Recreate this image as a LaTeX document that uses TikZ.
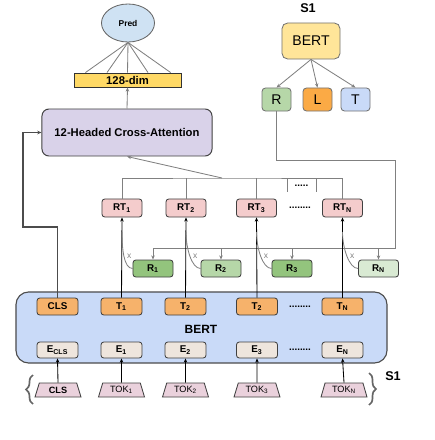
\documentclass[tikz,border=0pt]{standalone}
\usepackage{fontspec}
\setmainfont{Liberation Sans}
\usepackage{xcolor}
\usetikzlibrary{arrows.meta,positioning,shapes.geometric,calc,decorations.pathreplacing}

\definecolor{predblue}{HTML}{CFE2F3}
\definecolor{dimyellow}{HTML}{FFD966}
\definecolor{attnpurple}{HTML}{D9D2E9}
\definecolor{bertyellow}{HTML}{FFE599}
\definecolor{rgreen}{HTML}{B6D7A8}
\definecolor{rdark}{HTML}{93C47D}
\definecolor{rlight}{HTML}{D9EAD3}
\definecolor{lorange}{HTML}{FBAA45}
\definecolor{tblue}{HTML}{C9DAF8}
\definecolor{rtpink}{HTML}{F4CCCC}
\definecolor{torange}{HTML}{F6B26B}
\definecolor{ebeige}{HTML}{EEE5DD}
\definecolor{tokpink}{HTML}{EAD1DC}

\begin{document}
\begin{tikzpicture}[
  x=0.025cm, y=-0.025cm,
  box/.style={rectangle, draw=black!75, rounded corners=2pt, line width=0.6pt,
              inner sep=0pt, font=\bfseries\fontsize{7}{8}\selectfont},
  rtbox/.style={box, fill=rtpink, minimum width=1cm, minimum height=0.45cm},
  rbox/.style={box, minimum width=1cm, minimum height=0.425cm},
  tbox/.style={box, fill=torange, minimum width=1.025cm, minimum height=0.425cm},
  ebox/.style={box, fill=ebeige, minimum width=1.025cm, minimum height=0.4cm},
  tok/.style={trapezium, trapezium stretches=true, trapezium left angle=72,
              trapezium right angle=72, draw=black!75, fill=tokpink, line width=0.6pt,
              minimum width=1.15cm, minimum height=0.35cm, inner sep=0pt,
              font=\fontsize{6.5}{7}\selectfont},
  outbox/.style={rectangle, draw=black!55, rounded corners=2.5pt, line width=0.6pt,
                 minimum width=0.725cm, minimum height=0.575cm,
                 font=\fontsize{10}{12}\selectfont},
  dots/.style={font=\bfseries\fontsize{7}{8}\selectfont},
  xlab/.style={font=\fontsize{6}{7}\selectfont, inner sep=1pt},
  arr/.style={-{Stealth[length=3pt,width=2.5pt]}, black, line width=0.6pt},
  garr/.style={-{Stealth[length=3pt,width=2.5pt]}, black!50, line width=0.6pt},
  gline/.style={black!50, line width=0.6pt}
]
  \useasboundingbox (0,0) rectangle (434,440);

  % top: prediction head
  \node[ellipse, draw=black!60, fill=predblue, line width=0.6pt, minimum width=1.325cm,
        minimum height=0.95cm, font=\bfseries\fontsize{6}{7}\selectfont] (pred) at (128,23) {Pred};
  \node[rectangle, draw=black!80, fill=dimyellow, line width=0.6pt, minimum width=2.675cm,
        minimum height=0.35cm, inner sep=0pt, font=\bfseries\fontsize{8}{9}\selectfont] (dim) at (127.5,80) {128-dim};
  \node[rectangle, draw=black!75, fill=attnpurple, rounded corners=5pt, line width=0.7pt,
        minimum width=4.25cm, minimum height=1.175cm,
        font=\bfseries\fontsize{8}{9}\selectfont] (xattn) at (127,132.5) {12-Headed Cross-Attention};
  \foreach \f in {0.11,0.31,0.5,0.69,0.9}
    \draw[gline] (pred.south) -- ($(dim.north west)!\f!(dim.north east)$);
  \draw[garr] (xattn.north) -- (dim.south);

  % top right: S1 through BERT
  \node[font=\bfseries\fontsize{9}{10}\selectfont] (s1top) at (308,8) {S1};
  \node[outbox, fill=bertyellow, rounded corners=4pt, minimum width=1.45cm,
        minimum height=0.9cm] (bert) at (311,41) {BERT};
  \node[outbox, fill=rgreen] (r) at (276.5,99.5) {R};
  \node[outbox, fill=lorange] (l) at (317.5,99.5) {L};
  \node[outbox, fill=tblue] (t) at (355.5,99.5) {T};
  \draw[garr] (bert.south) -- (r.north);
  \draw[garr] (bert.south) -- (l.north);
  \draw[garr] (bert.south) -- (t.north);

  % RT row
  \node[rtbox] (rt1) at (122,208) {RT\textsubscript{1}};
  \node[rtbox] (rt2) at (186,208) {RT\textsubscript{2}};
  \node[rtbox] (rt3) at (256.5,208) {RT\textsubscript{3}};
  \node[rtbox] (rtN) at (342.5,208) {RT\textsubscript{N}};
  \node[dots] (rtdots) at (300,208) {........};
  \coordinate (bus) at (222,178);
  \draw[gline] (rt1.north) |- (bus) -| (rtN.north);
  \draw[gline] (rt2.north) -- (rt2.north |- bus);
  \draw[gline] (rt3.north) -- (rt3.north |- bus);
  \draw[gline] (287,178) -- (287,192);
  \draw[gline] (316,178) -- (316,192);
  \node[dots] (busdots) at (301.5,186) {.....};
  \draw[garr] (bus) -- (xattn.south);

  % R row
  \node[rbox, fill=rdark] (r1) at (153,268.5) {R\textsubscript{1}};
  \node[rbox, fill=rgreen] (r2) at (221,268.5) {R\textsubscript{2}};
  \node[rbox, fill=rdark] (r3) at (292,268.5) {R\textsubscript{3}};
  \node[rbox, fill=rlight] (rN) at (378.5,268.5) {R\textsubscript{N}};
  \coordinate (rail) at (395,248);
  \draw[gline] (r.south) |- (395,160) -- (rail) -- (rail -| r1.north);
  \foreach \n in {r1,r2,r3,rN}
    \draw[garr] (rail -| \n.north) -- (\n.north);

  % BERT encoder
  \node[rectangle, draw=black!70, fill=tblue, rounded corners=9pt, line width=0.8pt,
        minimum width=9.275cm, minimum height=1.775cm] (enc) at (201.5,327.5) {};
  \node[font=\bfseries\fontsize{8.5}{10}\selectfont] (enclbl) at (201,329) {BERT};
  \node[tbox] (cls) at (57.5,306.5) {CLS};
  \node[tbox] (t1) at (121.5,306.5) {T\textsubscript{1}};
  \node[tbox] (t2) at (185.5,306.5) {T\textsubscript{2}};
  \node[tbox] (t3) at (257,306.5) {T\textsubscript{2}};
  \node[tbox] (tN) at (342.5,306.5) {T\textsubscript{N}};
  \node[dots] (tdots) at (300,306.5) {........};
  \node[ebox] (ecls) at (57.5,350) {E\textsubscript{CLS}};
  \node[ebox] (e1) at (121.5,350) {E\textsubscript{1}};
  \node[ebox] (e2) at (185.5,350) {E\textsubscript{2}};
  \node[ebox] (e3) at (257,350) {E\textsubscript{3}};
  \node[ebox] (eN) at (342.5,350) {E\textsubscript{N}};
  \node[dots] (edots) at (300,350) {........};

  % input tokens
  \node[tok, font=\bfseries\fontsize{6.5}{7}\selectfont] (tokcls) at (58,390) {CLS};
  \node[tok] (tok1) at (121.5,390) {TOK\textsubscript{1}};
  \node[tok] (tok2) at (185.5,390) {TOK\textsubscript{2}};
  \node[tok] (tok3) at (257,390) {TOK\textsubscript{3}};
  \node[tok] (tokN) at (344,390) {TOK\textsubscript{N}};
  \draw[arr] (tokcls.north) -- (ecls.south);
  \draw[arr] (tok1.north) -- (e1.south);
  \draw[arr] (tok2.north) -- (e2.south);
  \draw[arr] (tok3.north) -- (e3.south);
  \draw[arr] (tokN.north) -- (eN.south);
  \draw[decorate, decoration={brace, amplitude=5pt}, black!60, line width=1.2pt]
    (33,404) -- (33,375);
  \draw[decorate, decoration={brace, amplitude=5pt}, black!60, line width=1.2pt]
    (369,373) -- (369,405);
  \node[font=\bfseries\fontsize{9}{10}\selectfont] (s1bot) at (393,376) {S1};

  % T outputs into RT
  \draw[arr] (t1.north) -- (rt1.south);
  \draw[arr] (t2.north) -- (rt2.south);
  \draw[arr] (t3.north) -- (rt3.south);
  \draw[arr] (tN.north) -- (rtN.south);
  \draw[gline] (r1.west) .. controls +(-9,0) and +(0,16) .. (rt1.south |- 0,232)
    node[xlab, pos=0.5, right=1pt] {x};
  \draw[gline] (r2.west) .. controls +(-9,0) and +(0,16) .. (rt2.south |- 0,232)
    node[xlab, pos=0.5, right=1pt] {x};
  \draw[gline] (r3.west) .. controls +(-9,0) and +(0,16) .. (rt3.south |- 0,232)
    node[xlab, pos=0.5, right=1pt] {x};
  \draw[gline] (rN.west) .. controls +(-9,0) and +(0,16) .. (rtN.south |- 0,232)
    node[xlab, pos=0.5, right=1pt] {x};

  % CLS into cross-attention
  \coordinate (clsbend) at (23,227);
  \draw[-{Stealth[length=3pt,width=2.5pt]}, black!70, line width=1pt]
    (cls.north) |- (clsbend) |- (xattn.west);
\end{tikzpicture}
\end{document}
